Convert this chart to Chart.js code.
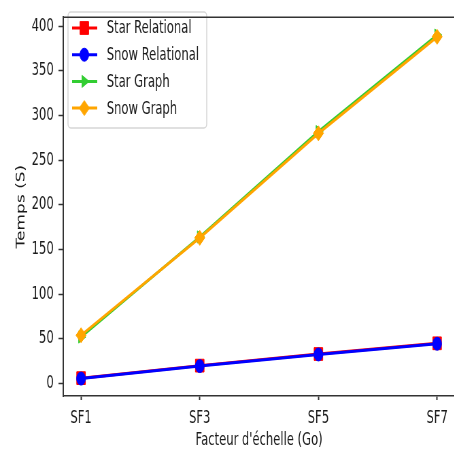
<!DOCTYPE html>
<html>
<head>
<meta charset="utf-8">
<script src="https://cdn.jsdelivr.net/npm/chart.js@4"></script>
<style>
  html, body { margin: 0; padding: 0; background: #fff; overflow: hidden; }
  #frame { width: 454px; height: 459px; overflow: hidden; position: relative; }
  /* the reference figure is squeezed sideways, so draw wide and squeeze */
  #wide { width: 679px; height: 459px; transform: scaleX(0.68); transform-origin: 0 0; }
</style>
</head>
<body>
<div id="frame"><div id="wide"><canvas id="myChart" width="679" height="459"></canvas></div></div>
<script>
// data
var categories = ['SF1', 'SF3', 'SF5', 'SF7'];
var starRelational = [6, 20, 33, 45];
var snowRelational = [5.5, 19.5, 32.5, 44.5];
var starGraph = [52, 164, 282, 390];
var snowGraph = [54, 163, 280, 388];
var yTicks = [0, 50, 100, 150, 200, 250, 300, 350, 400];

var FONT = 'DejaVu Sans';
var TXT = '#1a1a1a';

var toPoints = (vals) => vals.map((v, i) => ({x: i, y: v}));

var series = [
    {label: 'Star Relational', data: starRelational, color: '#ff0000', style: 'rect', radius: 9, rotation: 0, order: 4},
    {label: 'Snow Relational', data: snowRelational, color: '#0000ff', style: 'circle', radius: 6.5, rotation: 0, order: 3},
    {label: 'Star Graph', data: starGraph, color: '#32cd32', style: 'triangle', radius: 7, rotation: 90, order: 2},
    {label: 'Snow Graph', data: snowGraph, color: '#ffa500', style: 'rectRot', radius: 7.5, rotation: 0, order: 1}
];

// legend box inside the plot, top left, like matplotlib
var boxLegend = {
    id: 'boxLegend',
    afterDraw: (chart) => {
        var ctx = chart.ctx;
        var x0 = 100, y0 = 12, w = 204, h = 116;
        ctx.save();
        ctx.beginPath();
        ctx.roundRect(x0, y0, w, h, 4);
        ctx.fillStyle = 'rgba(255,255,255,0.9)';
        ctx.fill();
        ctx.strokeStyle = '#d6d6d6';
        ctx.lineWidth = 1.5;
        ctx.stroke();
        series.forEach((s, i) => {
            var y = 28 + i * 26.7;
            ctx.strokeStyle = s.color;
            ctx.lineWidth = 3;
            ctx.beginPath();
            ctx.moveTo(106, y);
            ctx.lineTo(143, y);
            ctx.stroke();
            ctx.fillStyle = s.color;
            ctx.strokeStyle = s.color;
            ctx.lineWidth = 1;
            Chart.helpers.drawPoint(ctx, {pointStyle: s.style, radius: s.radius, rotation: s.rotation, borderWidth: 1}, 124, y);
            ctx.fillStyle = TXT;
            ctx.font = '17px "' + FONT + '"';
            ctx.textBaseline = 'middle';
            ctx.textAlign = 'left';
            ctx.fillText(s.label, 157, y + 1);
        });
        ctx.restore();
    }
};

// top spine
var topSpine = {
    id: 'topSpine',
    afterDraw: (chart) => {
        var a = chart.chartArea, ctx = chart.ctx;
        ctx.save();
        ctx.strokeStyle = '#333';
        ctx.lineWidth = 1.5;
        ctx.beginPath();
        ctx.moveTo(a.left, a.top);
        ctx.lineTo(a.right, a.top);
        ctx.stroke();
        ctx.restore();
    }
};

var ctx = document.getElementById('myChart').getContext('2d');
var chart = new Chart(ctx, {
    type: 'line',
    data: {
        datasets: series.map((s) => ({
            label: s.label,
            data: toPoints(s.data),
            borderColor: s.color,
            backgroundColor: s.color,
            borderWidth: 3,
            pointStyle: s.style,
            pointRadius: s.radius,
            pointRotation: s.rotation,
            pointBorderWidth: 1,
            order: s.order,
            tension: 0
        }))
    },
    options: {
        responsive: false,
        animation: false,
        devicePixelRatio: 1,
        layout: {padding: {top: 4, right: 1, left: 0, bottom: 0}},
        plugins: {legend: {display: false}, tooltip: {enabled: false}},
        scales: {
            x: {
                type: 'linear',
                min: -0.15,
                max: 3.15,
                afterBuildTicks: (scale) => { scale.ticks = categories.map((c, i) => ({value: i})); },
                afterFit: (scale) => { scale.height = 63; },
                ticks: {
                    callback: (v) => categories[v],
                    color: TXT,
                    font: {family: FONT, size: 17},
                    padding: 8,
                    maxRotation: 0
                },
                grid: {drawOnChartArea: false, color: '#333', tickColor: '#333', tickLength: 4, tickWidth: 2},
                border: {color: '#333', width: 1.5},
                title: {
                    display: true,
                    text: "Facteur d'échelle (Go)",
                    color: TXT,
                    font: {family: FONT, size: 17},
                    padding: {top: 0, bottom: 8}
                }
            },
            y: {
                min: -14,
                max: 410,
                afterBuildTicks: (scale) => { scale.ticks = yTicks.map((v) => ({value: v})); },
                afterFit: (scale) => { scale.width = 93; },
                ticks: {
                    color: TXT,
                    font: {family: FONT, size: 17},
                    padding: 7
                },
                grid: {drawOnChartArea: false, color: '#333', tickColor: '#333', tickLength: 7, tickWidth: 1.5},
                border: {color: '#333', width: 2},
                title: {
                    display: true,
                    text: 'Temps (S)',
                    color: TXT,
                    font: {family: FONT, size: 17},
                    padding: {top: 21, bottom: 0}
                }
            }
        }
    },
    plugins: [boxLegend, topSpine]
});
</script>
</body>
</html>
